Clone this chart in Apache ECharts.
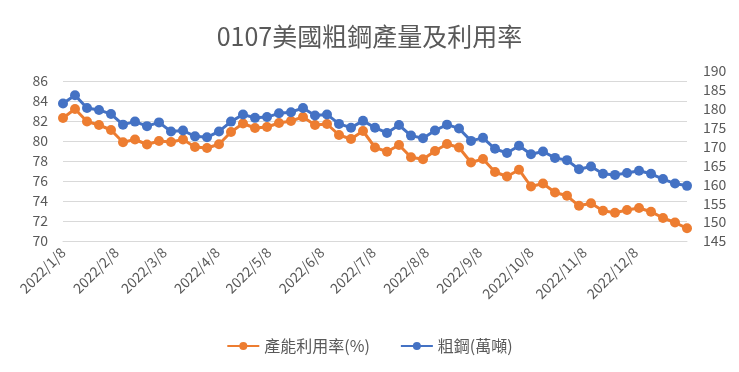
<!DOCTYPE html>
<html>
<head>
<meta charset="utf-8">
<script src="https://cdn.jsdelivr.net/npm/echarts@6/dist/echarts.min.js"></script>
<style>
html,body{margin:0;padding:0;background:#fff;}
#chart{width:739px;height:372px;}
</style>
</head>
<body>
<div id="chart"></div>
<script>
const titleText = '0107美國粗鋼產量及利用率';
const dates = [
 '2022/1/8','2022/1/15','2022/1/22','2022/1/29','2022/2/5','2022/2/12','2022/2/19','2022/2/26',
 '2022/3/5','2022/3/12','2022/3/19','2022/3/26','2022/4/2','2022/4/9','2022/4/16','2022/4/23','2022/4/30',
 '2022/5/7','2022/5/14','2022/5/21','2022/5/28','2022/6/4','2022/6/11','2022/6/18','2022/6/25',
 '2022/7/2','2022/7/9','2022/7/16','2022/7/23','2022/7/30','2022/8/6','2022/8/13','2022/8/20','2022/8/27',
 '2022/9/3','2022/9/10','2022/9/17','2022/9/24','2022/10/1','2022/10/8','2022/10/15','2022/10/22','2022/10/29',
 '2022/11/5','2022/11/12','2022/11/19','2022/11/26','2022/12/3','2022/12/10','2022/12/17','2022/12/24','2022/12/31',
 '2023/1/7'
];
const utilization = [
 82.3,83.2,81.95,81.6,81.1,79.87,80.15,79.65,80.0,79.9,80.15,79.4,79.3,79.67,80.9,81.75,81.3,81.4,81.8,82.0,
 82.4,81.6,81.7,80.6,80.2,81.0,79.35,78.93,79.6,78.38,78.18,79.0,79.7,79.35,77.85,78.2,76.9,76.45,77.13,75.45,
 75.75,74.85,74.52,73.52,73.77,73.02,72.83,73.1,73.3,72.93,72.3,71.85,71.27
];
const crudeSteel = [
 181.4,183.6,180.2,179.7,178.6,175.8,176.6,175.4,176.4,174.0,174.25,172.7,172.45,174.0,176.6,178.5,177.6,177.8,178.8,179.1,
 180.2,178.2,178.5,176.0,175.0,176.8,175.0,173.6,175.7,172.9,172.2,174.25,175.8,174.8,171.5,172.3,169.4,168.3,170.2,167.95,
 168.7,167.0,166.4,164.0,164.7,162.8,162.5,163.0,163.6,162.8,161.4,160.2,159.6
];
const xTickLabels = ['2022/1/8','2022/2/8','2022/3/8','2022/4/8','2022/5/8','2022/6/8','2022/7/8','2022/8/8','2022/9/8','2022/10/8','2022/11/8','2022/12/8'];
const leftTicks = [70,72,74,76,78,80,82,84,86];
const rightTicks = [145,150,155,160,165,170,175,180,185,190];
const seriesNames = ['產能利用率(%)','粗鋼(萬噸)'];

const DAY = 86400000;
function ts(s){ const p = s.split('/').map(Number); return Date.UTC(p[0], p[1]-1, p[2]); }
const t0 = ts(dates[0]);
function dayNum(s){ return Math.round((ts(s) - t0) / DAY); }
function fmt(v){ const d = new Date(t0 + Math.round(v) * DAY); return d.getUTCFullYear()+'/'+(d.getUTCMonth()+1)+'/'+d.getUTCDate(); }

const xMax = dayNum(dates[dates.length-1]);
const font = '"Noto Sans CJK TC","Noto Sans",sans-serif';
const grey = '#595959';

const chart = echarts.init(document.getElementById('chart'), null, {renderer:'canvas'});
chart.setOption({
  animation:false,
  backgroundColor:'#fff',
  textStyle:{fontFamily:font},
  title:{text:titleText,left:'center',top:19,textStyle:{fontSize:25,fontWeight:'normal',color:grey,fontFamily:font}},
  legend:{
    bottom:13,left:'center',itemWidth:32,itemHeight:10,itemGap:30,selectedMode:false,
    textStyle:{fontSize:16,color:grey,fontFamily:font},
    data:seriesNames
  },
  grid:[
    {left:63,right:52,top:81,bottom:131},
    {left:63,right:52,top:71,bottom:131}
  ],
  xAxis:[
    {type:'value',gridIndex:0,min:0,max:xMax,
     axisLine:{show:true,lineStyle:{color:'#d9d9d9'}},axisTick:{show:false},splitLine:{show:false},
     axisLabel:{customValues:xTickLabels.map(dayNum),formatter:fmt,rotate:45,margin:9,fontSize:14,color:grey,hideOverlap:false,showMinLabel:true,showMaxLabel:true}},
    {type:'value',gridIndex:1,min:0,max:xMax,show:false}
  ],
  yAxis:[
    {type:'value',gridIndex:0,min:leftTicks[0],max:leftTicks[leftTicks.length-1],interval:2,
     axisLine:{show:false},axisTick:{show:false},
     splitLine:{lineStyle:{color:'#d9d9d9',width:1}},
     axisLabel:{fontSize:14,color:grey,margin:15}},
    {type:'value',gridIndex:1,position:'right',min:rightTicks[0],max:rightTicks[rightTicks.length-1],interval:5,
     axisLine:{show:false},axisTick:{show:false},splitLine:{show:false},
     axisLabel:{fontSize:14,color:grey,margin:16}}
  ],
  series:[
    {name:seriesNames[0],type:'line',xAxisIndex:0,yAxisIndex:0,
     data:dates.map((d,i)=>[dayNum(d),utilization[i]]),
     symbol:'circle',symbolSize:10,showAllSymbol:true,
     lineStyle:{width:3,color:'#ED7D31'},itemStyle:{color:'#ED7D31'}},
    {name:seriesNames[1],type:'line',xAxisIndex:1,yAxisIndex:1,
     data:dates.map((d,i)=>[dayNum(d),crudeSteel[i]]),
     symbol:'circle',symbolSize:10,showAllSymbol:true,
     lineStyle:{width:3,color:'#4472C4'},itemStyle:{color:'#4472C4'}}
  ]
});
</script>
</body>
</html>
